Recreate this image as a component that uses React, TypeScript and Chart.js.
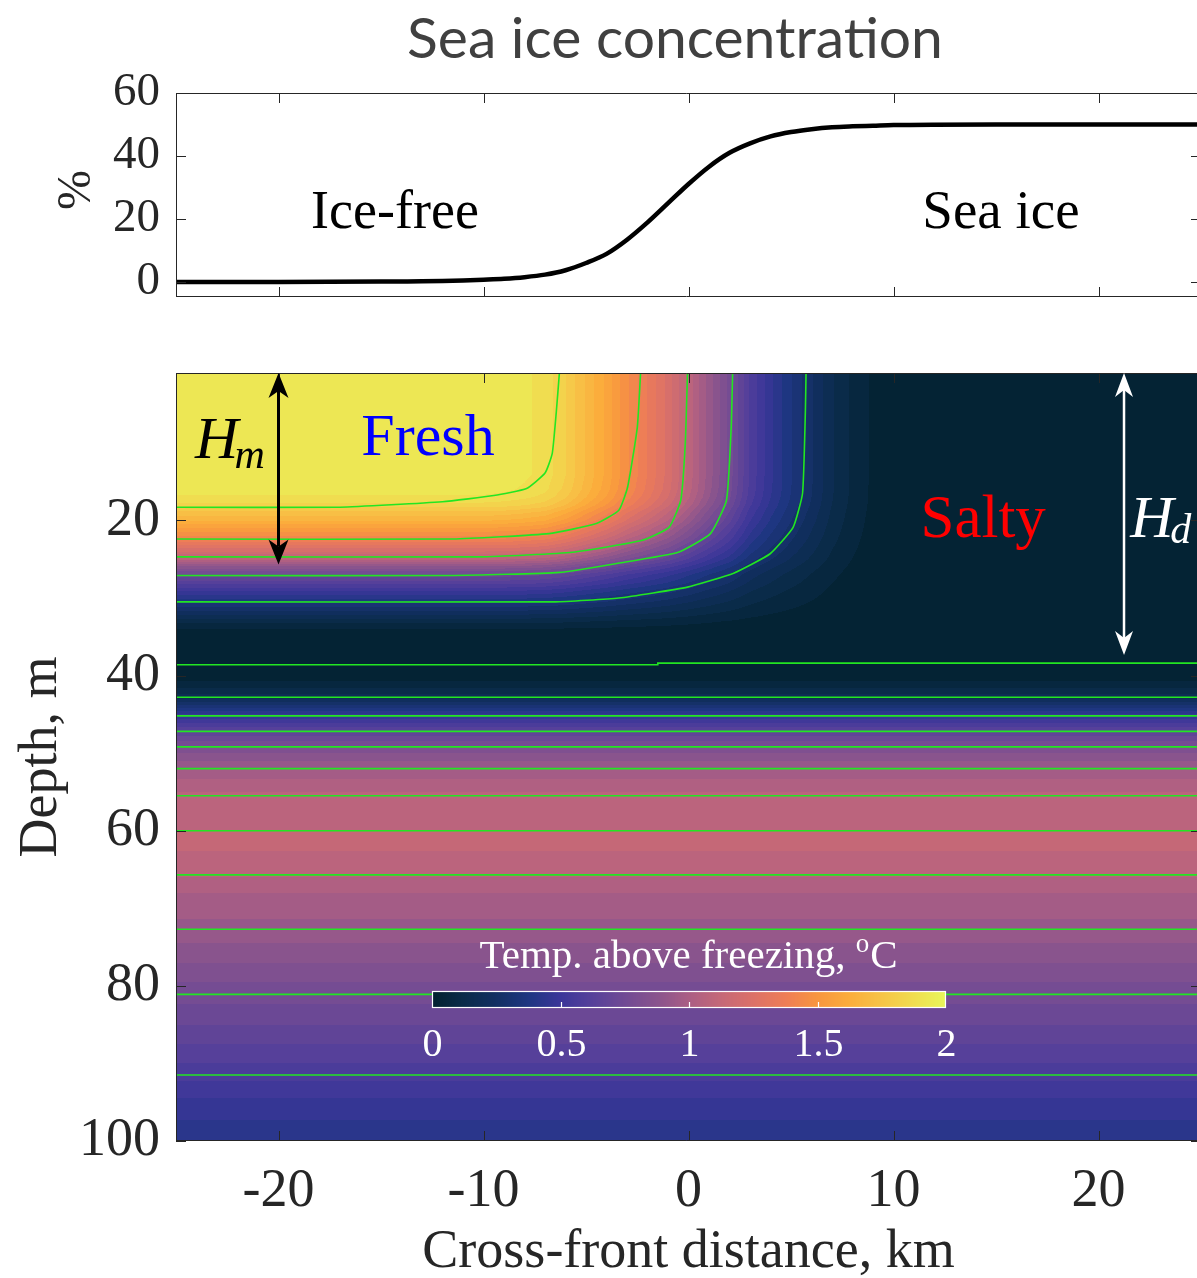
import React, { useEffect, useRef } from 'react';
import { Chart, registerables } from 'chart.js';

Chart.register(...registerables);

// ---------------- data ----------------
const xTicks = [-20, -10, 0, 10, 20];
const iceTicks = [0, 20, 40, 60];
const depthTicks = [20, 40, 60, 80, 100];
const colorbarTicks = [0, 0.5, 1, 1.5, 2];
const colorbarTickLabels = ['0', '0.5', '1', '1.5', '2'];

// sea ice concentration (%) along the section
const seaIceX = [-25, -20, -15, -14, -13, -12, -11, -10, -9, -8, -7, -6, -5, -4, -3, -2, -1, 0, 1, 2, 3, 4, 5, 6, 7, 8, 9, 10, 12, 15, 20, 25];
const seaIcePct = [0, 0, 0.1, 0.15, 0.2, 0.3, 0.45, 0.7, 1.0, 1.5, 2.3, 3.7, 6.0, 8.9, 13.4, 18.9, 25.0, 31.1, 36.6, 41.0, 44.0, 46.2, 47.6, 48.5, 49.1, 49.4, 49.6, 49.8, 49.95, 50, 50, 50];

// temperature above freezing (°C) read along the surface row
const surfX = [-25, -10, -9, -8, -7, -6, -5, -4, -3, -2, -1, 0, 1, 2, 3, 4, 5, 6, 7, 8, 9, 10, 11, 25];
const surfTemp = [1.97, 1.97, 1.96, 1.94, 1.91, 1.83, 1.72, 1.61, 1.48, 1.37, 1.25, 1.1, 0.94, 0.79, 0.6, 0.47, 0.36, 0.26, 0.16, 0.09, 0.04, 0.015, 0, 0];

// temperature of the fresh surface layer read along the left edge (x = -25 km)
const edgeDepth = [1, 14, 15, 16, 17, 18, 19, 20, 21, 22, 23, 24, 25, 26, 27, 28, 29, 30, 31, 32, 33, 34, 35, 36, 38, 39, 100];
const edgeTemp = [1.97, 1.97, 1.96, 1.95, 1.92, 1.86, 1.76, 1.68, 1.57, 1.47, 1.35, 1.22, 1.08, 0.9, 0.74, 0.64, 0.52, 0.42, 0.32, 0.22, 0.12, 0.05, 0.03, 0.02, 0.01, 0, 0];

// temperature of the deep warm layer (same at every x)
const deepDepth = [1, 36, 38, 39, 40, 41, 42, 43, 44, 45, 46, 47, 48, 49, 50, 51, 52, 53, 54, 55, 56, 58, 60, 62, 64, 65, 66, 68, 70, 72, 74, 76, 78, 80, 82, 84, 86, 88, 90, 92, 94, 96, 98, 100];
const deepTemp = [0, 0, 0.005, 0.015, 0.03, 0.06, 0.12, 0.2, 0.33, 0.45, 0.54, 0.63, 0.72, 0.79, 0.85, 0.9, 0.95, 0.99, 1.02, 1.05, 1.07, 1.09, 1.1, 1.105, 1.09, 1.07, 1.05, 1.0, 0.97, 0.94, 0.91, 0.87, 0.83, 0.79, 0.755, 0.72, 0.68, 0.64, 0.6, 0.555, 0.51, 0.47, 0.44, 0.425];

// green isopycnals: [x km, depth m]
const iso1 = [[-25, 18.3], [-17, 18.3], [-12, 17.6], [-9.5, 16.8], [-7.9, 15.9], [-7.0, 13.9], [-6.65, 11.4], [-6.45, 6], [-6.3, 1]];
const iso2 = [[-25, 22.4], [-11.5, 22.4], [-6.8, 21.7], [-4.5, 20.4], [-3.4, 18.7], [-2.97, 15.7], [-2.5, 8], [-2.34, 1]];
const iso3 = [[-25, 24.7], [-10.1, 24.7], [-5.65, 24.1], [-2.3, 22.6], [-0.95, 20.9], [-0.38, 17.4], [-0.16, 10.1], [-0.05, 1]];
const iso4 = [[-25, 27.1], [-11.5, 27.1], [-6.3, 26.7], [-3.4, 25.5], [-0.5, 24.1], [1.07, 21.7], [1.85, 17.4], [2.08, 8], [2.15, 1]];
const iso5 = [[-25, 30.5], [-6.5, 30.5], [-3.4, 30.0], [-0.05, 28.6], [2.2, 26.8], [3.98, 24.3], [5.1, 20.9], [5.56, 16.5], [5.7, 5.8], [5.73, 1]];
const iso6 = [[-25, 38.6], [-1.5, 38.6], [-1.5, 38.4], [25, 38.4]];
const isoFlatDepths = [42.8, 45.2, 47.2, 49.2, 52.0, 55.5, 60.0, 65.7, 72.7, 81.1, 91.5];

// thermal-like colormap
const cmapPos = [0, 0.06, 0.12, 0.19, 0.25, 0.31, 0.375, 0.44, 0.5, 0.56, 0.625, 0.69, 0.75, 0.81, 0.875, 0.94, 1];
const cmapHex = ['#03212f', '#0a2b48', '#112f60', '#1f3682', '#3b3699', '#55409a', '#704a94', '#8a548d', '#ab5e84', '#c46878', '#dc7168', '#ef7e55', '#f8963f', '#fbac3c', '#f7c447', '#f0de50', '#e8f65a'];
const tempMin = 0;
const tempMax = 2;
const bandCount = 40;

// ---------------- helpers ----------------
const W = 1197;
const TOP_H = 330;
const BOT_H = 948;
const AXIS = '#262626';
const SERIF = '"Liberation Serif", "Times New Roman", Times, serif';

function hexRgb(h: string): number[] {
  return [parseInt(h.slice(1, 3), 16), parseInt(h.slice(3, 5), 16), parseInt(h.slice(5, 7), 16)];
}
const cmapRgb = cmapHex.map(hexRgb);
function cmap(t: number): number[] {
  const v = Math.max(0, Math.min(1, t));
  for (let i = 1; i < cmapPos.length; i++) {
    if (v <= cmapPos[i]) {
      const f = (v - cmapPos[i - 1]) / (cmapPos[i] - cmapPos[i - 1]);
      const a = cmapRgb[i - 1];
      const b = cmapRgb[i];
      return [a[0] + (b[0] - a[0]) * f, a[1] + (b[1] - a[1]) * f, a[2] + (b[2] - a[2]) * f];
    }
  }
  return cmapRgb[cmapRgb.length - 1];
}
function lookup(xs: number[], ys: number[], v: number): number {
  if (v <= xs[0]) return ys[0];
  const n = xs.length;
  if (v >= xs[n - 1]) return ys[n - 1];
  for (let i = 1; i < n; i++) {
    if (v <= xs[i]) {
      const f = (v - xs[i - 1]) / (xs[i] - xs[i - 1]);
      return ys[i - 1] + (ys[i] - ys[i - 1]) * f;
    }
  }
  return ys[n - 1];
}
function rgbStr(c: number[]) {
  return `rgb(${Math.round(c[0])},${Math.round(c[1])},${Math.round(c[2])})`;
}
function txt(ctx: CanvasRenderingContext2D, s: string, x: number, y: number, font: string, color: string, align: CanvasTextAlign = 'center', baseline: CanvasTextBaseline = 'alphabetic') {
  ctx.font = font;
  ctx.fillStyle = color;
  ctx.textAlign = align;
  ctx.textBaseline = baseline;
  ctx.fillText(s, x, y);
}
function doubleArrow(ctx: CanvasRenderingContext2D, x: number, y1: number, y2: number, color: string, lw: number, hl: number, hw: number) {
  const notch = 7;
  ctx.save();
  ctx.strokeStyle = color;
  ctx.fillStyle = color;
  ctx.lineWidth = lw;
  ctx.beginPath();
  ctx.moveTo(x, y1 + hl - notch);
  ctx.lineTo(x, y2 - hl + notch);
  ctx.stroke();
  ctx.beginPath();
  ctx.moveTo(x, y1);
  ctx.lineTo(x + hw, y1 + hl);
  ctx.lineTo(x, y1 + hl - notch);
  ctx.lineTo(x - hw, y1 + hl);
  ctx.closePath();
  ctx.fill();
  ctx.beginPath();
  ctx.moveTo(x, y2);
  ctx.lineTo(x + hw, y2 - hl);
  ctx.lineTo(x, y2 - hl + notch);
  ctx.lineTo(x - hw, y2 - hl);
  ctx.closePath();
  ctx.fill();
  ctx.restore();
}
function drawFrameAndTicks(ctx: CanvasRenderingContext2D, chart: any, yTicks: number[], tickLen: number) {
  const a = chart.chartArea;
  const xs = chart.scales.x;
  const ys = chart.scales.y;
  ctx.save();
  ctx.strokeStyle = AXIS;
  ctx.lineWidth = 1;
  ctx.beginPath();
  ctx.moveTo(a.left + 0.5, a.top + 0.5);
  ctx.lineTo(W, a.top + 0.5);
  ctx.moveTo(a.left + 0.5, a.top);
  ctx.lineTo(a.left + 0.5, a.bottom);
  ctx.moveTo(a.left, a.bottom - 0.5);
  ctx.lineTo(W, a.bottom - 0.5);
  for (const t of xTicks) {
    const px = Math.round(xs.getPixelForValue(t)) + 0.5;
    ctx.moveTo(px, a.bottom);
    ctx.lineTo(px, a.bottom - tickLen);
    ctx.moveTo(px, a.top);
    ctx.lineTo(px, a.top + tickLen);
  }
  for (const t of yTicks) {
    const py = Math.round(ys.getPixelForValue(t)) + 0.5;
    ctx.moveTo(a.left, py);
    ctx.lineTo(a.left + tickLen, py);
    ctx.moveTo(a.right + 4, py);
    ctx.lineTo(a.right + 4 - tickLen, py);
  }
  ctx.stroke();
  ctx.restore();
}

// ---------------- plugins ----------------
const topDecor = {
  id: 'topDecor',
  afterDatasetsDraw(chart: any) {
    const ctx: CanvasRenderingContext2D = chart.ctx;
    const a = chart.chartArea;
    const xs = chart.scales.x;
    const ys = chart.scales.y;
    drawFrameAndTicks(ctx, chart, iceTicks, 10);
    ctx.save();
    for (const t of iceTicks) {
      txt(ctx, String(t), a.left - 16, ys.getPixelForValue(t), `47px ${SERIF}`, AXIS, 'right', 'middle');
    }
    txt(ctx, 'Sea ice concentration', 675, 40, '57px Lato, "Open Sans", sans-serif', '#404040', 'center', 'middle');
    ctx.save();
    ctx.translate(77, 190);
    ctx.rotate(-Math.PI / 2);
    txt(ctx, '%', 0, 0, `48px ${SERIF}`, AXIS, 'center', 'middle');
    ctx.restore();
    txt(ctx, 'Ice-free', xs.getPixelForValue(-14.32), ys.getPixelForValue(17), `54px ${SERIF}`, '#000', 'center', 'alphabetic');
    txt(ctx, 'Sea ice', xs.getPixelForValue(15.24), ys.getPixelForValue(17), `55px ${SERIF}`, '#000', 'center', 'alphabetic');
    ctx.restore();
  },
};

const fieldPlugin = {
  id: 'field',
  beforeDatasetsDraw(chart: any) {
    const ctx: CanvasRenderingContext2D = chart.ctx;
    const a = chart.chartArea;
    const xs = chart.scales.x;
    const ys = chart.scales.y;
    const L = Math.round(a.left);
    const T = Math.round(a.top);
    const w = Math.round(a.right) - L;
    const h = Math.round(a.bottom) - T;
    const img = ctx.createImageData(w, h);
    const colT = new Float64Array(w);
    for (let i = 0; i < w; i++) colT[i] = lookup(surfX, surfTemp, xs.getValueForPixel(L + i + 0.5));
    const rowU = new Float64Array(h);
    const rowD = new Float64Array(h);
    for (let j = 0; j < h; j++) {
      const z = ys.getValueForPixel(T + j + 0.5);
      rowU[j] = lookup(edgeDepth, edgeTemp, z);
      rowD[j] = lookup(deepDepth, deepTemp, z);
    }
    const step = (tempMax - tempMin) / bandCount;
    const bands: number[][] = [];
    for (let k = 0; k < bandCount; k++) bands.push(cmap((k + 0.5) / bandCount));
    const d = img.data;
    for (let j = 0; j < h; j++) {
      for (let i = 0; i < w; i++) {
        const val = (colT[i] * rowU[j]) / 2 + rowD[j];
        let k = Math.floor((val - tempMin) / step + 1e-9);
        if (k < 0) k = 0;
        if (k >= bandCount) k = bandCount - 1;
        const c = bands[k];
        const p = (j * w + i) * 4;
        d[p] = c[0];
        d[p + 1] = c[1];
        d[p + 2] = c[2];
        d[p + 3] = 255;
      }
    }
    ctx.putImageData(img, L, T);
  },
  afterDatasetsDraw(chart: any) {
    const ctx: CanvasRenderingContext2D = chart.ctx;
    const a = chart.chartArea;
    const xs = chart.scales.x;
    const ys = chart.scales.y;
    drawFrameAndTicks(ctx, chart, depthTicks, 10);
    ctx.save();
    for (const t of depthTicks) {
      txt(ctx, String(t), a.left - 16, ys.getPixelForValue(t), `54px ${SERIF}`, AXIS, 'right', 'middle');
    }
    for (const t of xTicks) {
      txt(ctx, String(t), xs.getPixelForValue(t), a.bottom + 51, `54px ${SERIF}`, AXIS, 'center', 'middle');
    }
    txt(ctx, 'Cross-front distance, km', xs.getPixelForValue(0), a.bottom + 112, `54px ${SERIF}`, AXIS, 'center', 'middle');
    ctx.save();
    ctx.translate(a.left - 134, (a.top + a.bottom) / 2);
    ctx.rotate(-Math.PI / 2);
    txt(ctx, 'Depth, m', 0, 0, `54px ${SERIF}`, AXIS, 'center', 'middle');
    ctx.restore();

    // arrows
    doubleArrow(ctx, xs.getPixelForValue(-20), ys.getPixelForValue(1), ys.getPixelForValue(25.7), '#000', 3, 25, 10);
    doubleArrow(ctx, xs.getPixelForValue(21.24), ys.getPixelForValue(1), ys.getPixelForValue(37.35), '#fff', 2.5, 24, 9);

    // labels
    txt(ctx, 'H', xs.getPixelForValue(-24.07), ys.getPixelForValue(11.96), `italic 60px ${SERIF}`, '#000', 'left', 'alphabetic');
    txt(ctx, 'm', xs.getPixelForValue(-22.15), ys.getPixelForValue(13.2), `italic 42px ${SERIF}`, '#000', 'left', 'alphabetic');
    txt(ctx, 'H', xs.getPixelForValue(21.54), ys.getPixelForValue(22.14), `italic 60px ${SERIF}`, '#fff', 'left', 'alphabetic');
    txt(ctx, 'd', xs.getPixelForValue(23.5), ys.getPixelForValue(22.9), `italic 42px ${SERIF}`, '#fff', 'left', 'alphabetic');
    txt(ctx, 'Fresh', xs.getPixelForValue(-12.71), ys.getPixelForValue(11.57), `60px ${SERIF}`, '#0000ff', 'center', 'alphabetic');
    txt(ctx, 'Salty', xs.getPixelForValue(14.37), ys.getPixelForValue(22.14), `61px ${SERIF}`, '#ff0000', 'center', 'alphabetic');

    // colorbar
    const cbL = Math.round(xs.getPixelForValue(-12.5));
    const cbR = Math.round(xs.getPixelForValue(12.55));
    const cbT = Math.round(ys.getPixelForValue(80.7));
    const cbB = Math.round(ys.getPixelForValue(82.8));
    const cbW = cbR - cbL;
    for (let i = 0; i < cbW; i++) {
      ctx.fillStyle = rgbStr(cmap((i + 0.5) / cbW));
      ctx.fillRect(cbL + i, cbT, 1, cbB - cbT);
    }
    ctx.strokeStyle = '#ffffff';
    ctx.lineWidth = 1.2;
    ctx.strokeRect(cbL + 0.5, cbT + 0.5, cbW - 1, cbB - cbT - 1);
    ctx.beginPath();
    colorbarTicks.forEach((v, i) => {
      const px = Math.round(cbL + ((v - tempMin) / (tempMax - tempMin)) * cbW) + 0.5;
      if (i > 0 && i < colorbarTicks.length - 1) {
        ctx.moveTo(px, cbB - 1);
        ctx.lineTo(px, cbB - 6);
      }
      txt(ctx, colorbarTickLabels[i], px, ys.getPixelForValue(87.75), `40px ${SERIF}`, '#ffffff', 'center', 'middle');
    });
    ctx.stroke();
    // colorbar title with superscript o
    const titleY = ys.getPixelForValue(77.7);
    const cx = xs.getPixelForValue(0);
    const mainFont = `41px ${SERIF}`;
    const supFont = `27px ${SERIF}`;
    ctx.font = mainFont;
    const w1 = ctx.measureText('Temp. above freezing, ').width;
    const w3 = ctx.measureText('C').width;
    ctx.font = supFont;
    const w2 = ctx.measureText('o').width + 1;
    const start = cx - (w1 + w2 + w3) / 2;
    txt(ctx, 'Temp. above freezing, ', start, titleY, mainFont, '#ffffff', 'left', 'alphabetic');
    txt(ctx, 'o', start + w1, titleY - 16, supFont, '#ffffff', 'left', 'alphabetic');
    txt(ctx, 'C', start + w1 + w2, titleY, mainFont, '#ffffff', 'left', 'alphabetic');
    ctx.restore();
  },
};

function toPts(arr: number[][]) {
  return arr.map(([x, y]) => ({ x, y }));
}

export default function App() {
  const topRef = useRef<HTMLCanvasElement>(null);
  const botRef = useRef<HTMLCanvasElement>(null);

  useEffect(() => {
    const common: any = {
      animation: false,
      responsive: false,
      devicePixelRatio: 1,
      events: [],
      plugins: { legend: { display: false }, tooltip: { enabled: false }, title: { display: false } },
      elements: { point: { radius: 0 } },
    };
    const top = new Chart(topRef.current as HTMLCanvasElement, {
      type: 'line',
      data: {
        datasets: [
          {
            data: seaIceX.map((x, i) => ({ x, y: seaIcePct[i] })),
            borderColor: '#000000',
            borderWidth: 4.5,
            pointRadius: 0,
            cubicInterpolationMode: 'monotone',
            fill: false,
          } as any,
        ],
      },
      options: {
        ...common,
        layout: { padding: { top: 93, bottom: TOP_H - 297, left: 176, right: 0 } },
        scales: {
          x: { type: 'linear', min: -25, max: 24.8, display: false },
          y: { type: 'linear', min: -4.8, max: 60, display: false },
        },
      },
      plugins: [topDecor],
    });

    const isoSets: any[] = [iso1, iso2, iso3, iso4, iso5].map((arr) => ({
      data: toPts(arr),
      borderColor: '#22e622',
      borderWidth: 1.6,
      pointRadius: 0,
      tension: 0.15,
      fill: false,
    }));
    isoSets.push({ data: toPts(iso6), borderColor: '#22e622', borderWidth: 1.6, pointRadius: 0, tension: 0, fill: false });
    for (const d of isoFlatDepths) {
      isoSets.push({ data: [{ x: -25, y: d }, { x: 25, y: d }], borderColor: '#22e622', borderWidth: 1.6, pointRadius: 0, tension: 0, fill: false });
    }

    const bot = new Chart(botRef.current as HTMLCanvasElement, {
      type: 'line',
      data: { datasets: isoSets },
      options: {
        ...common,
        layout: { padding: { top: 373 - TOP_H, bottom: TOP_H + BOT_H - 1141, left: 176, right: 0 } },
        scales: {
          x: { type: 'linear', min: -25, max: 24.8, display: false },
          y: { type: 'linear', min: 1, max: 100, reverse: true, display: false },
        },
      },
      plugins: [fieldPlugin],
    });
    return () => {
      top.destroy();
      bot.destroy();
    };
  }, []);

  return (
    <div style={{ position: 'absolute', left: 0, top: 0, width: W, height: TOP_H + BOT_H, background: '#ffffff', overflow: 'hidden' }}>
      <canvas ref={topRef} width={W} height={TOP_H} style={{ position: 'absolute', left: 0, top: 0, width: W, height: TOP_H }} />
      <canvas ref={botRef} width={W} height={BOT_H} style={{ position: 'absolute', left: 0, top: TOP_H, width: W, height: BOT_H }} />
    </div>
  );
}
